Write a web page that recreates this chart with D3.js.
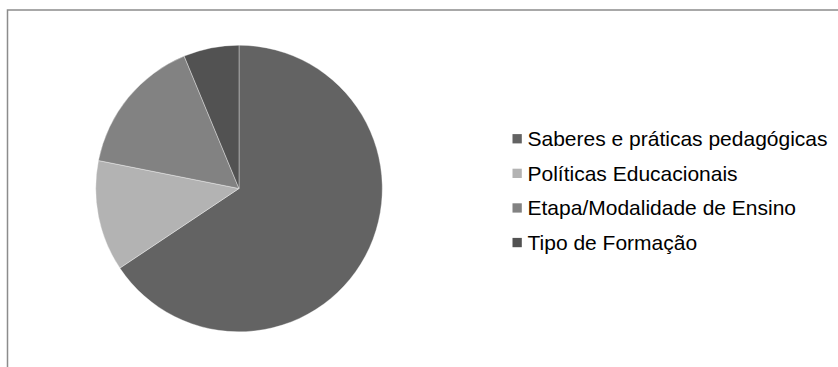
<!DOCTYPE html>
<html>
<head>
<meta charset="utf-8">
<script src="https://cdn.jsdelivr.net/npm/d3@7"></script>
<style>
  html, body { margin: 0; padding: 0; background: #fff; }
  svg { display: block; }
</style>
</head>
<body>
<svg id="chart" width="838" height="367"></svg>
<script>
// Categories and counts per category
const categories = [
  "Saberes e práticas pedagógicas",
  "Políticas Educacionais",
  "Etapa/Modalidade de Ensino",
  "Tipo de Formação"
];
const values = [42, 8, 10, 4];
const colors = ["#636363", "#b3b3b3", "#828282", "#525252"];

const svg = d3.select("#chart");
const W = 838, H = 367;

// chart frame (open on the right and bottom edges of the window)
svg.append("rect")
  .attr("x", 7.5).attr("y", 10)
  .attr("width", W).attr("height", H)
  .attr("fill", "#fff")
  .attr("stroke", "#8c8c8c")
  .attr("stroke-width", 1.5);

// pie
const cx = 239, cy = 188.5, r = 143.3;
const data = categories.map((c, i) => ({ name: c, value: values[i], color: colors[i] }));
const pie = d3.pie().value(d => d.value).sort(null);
const arc = d3.arc().innerRadius(0).outerRadius(r);

svg.append("g")
  .attr("transform", `translate(${cx},${cy})`)
  .selectAll("path")
  .data(pie(data))
  .join("path")
  .attr("d", arc)
  .attr("fill", d => d.data.color)
  .attr("stroke", "#ffffff")
  .attr("stroke-opacity", 0.6)
  .attr("stroke-width", 0.6);

// legend
const legendY = d3.scalePoint()
  .domain(categories)
  .range([138.7, 242.5]);

const legend = svg.append("g").attr("class", "legend");
const items = legend.selectAll("g")
  .data(data)
  .join("g")
  .attr("transform", d => `translate(512.5,${legendY(d.name)})`);

items.append("rect")
  .attr("x", 0).attr("y", -4.6)
  .attr("width", 9.3).attr("height", 9.3)
  .attr("fill", d => d.color);

items.append("text")
  .attr("x", 15)
  .attr("y", 7.5)
  .attr("font-family", "'Liberation Sans', Arial, sans-serif")
  .attr("font-size", 21)
  .attr("fill", "#000")
  .text(d => d.name);
</script>
</body>
</html>
